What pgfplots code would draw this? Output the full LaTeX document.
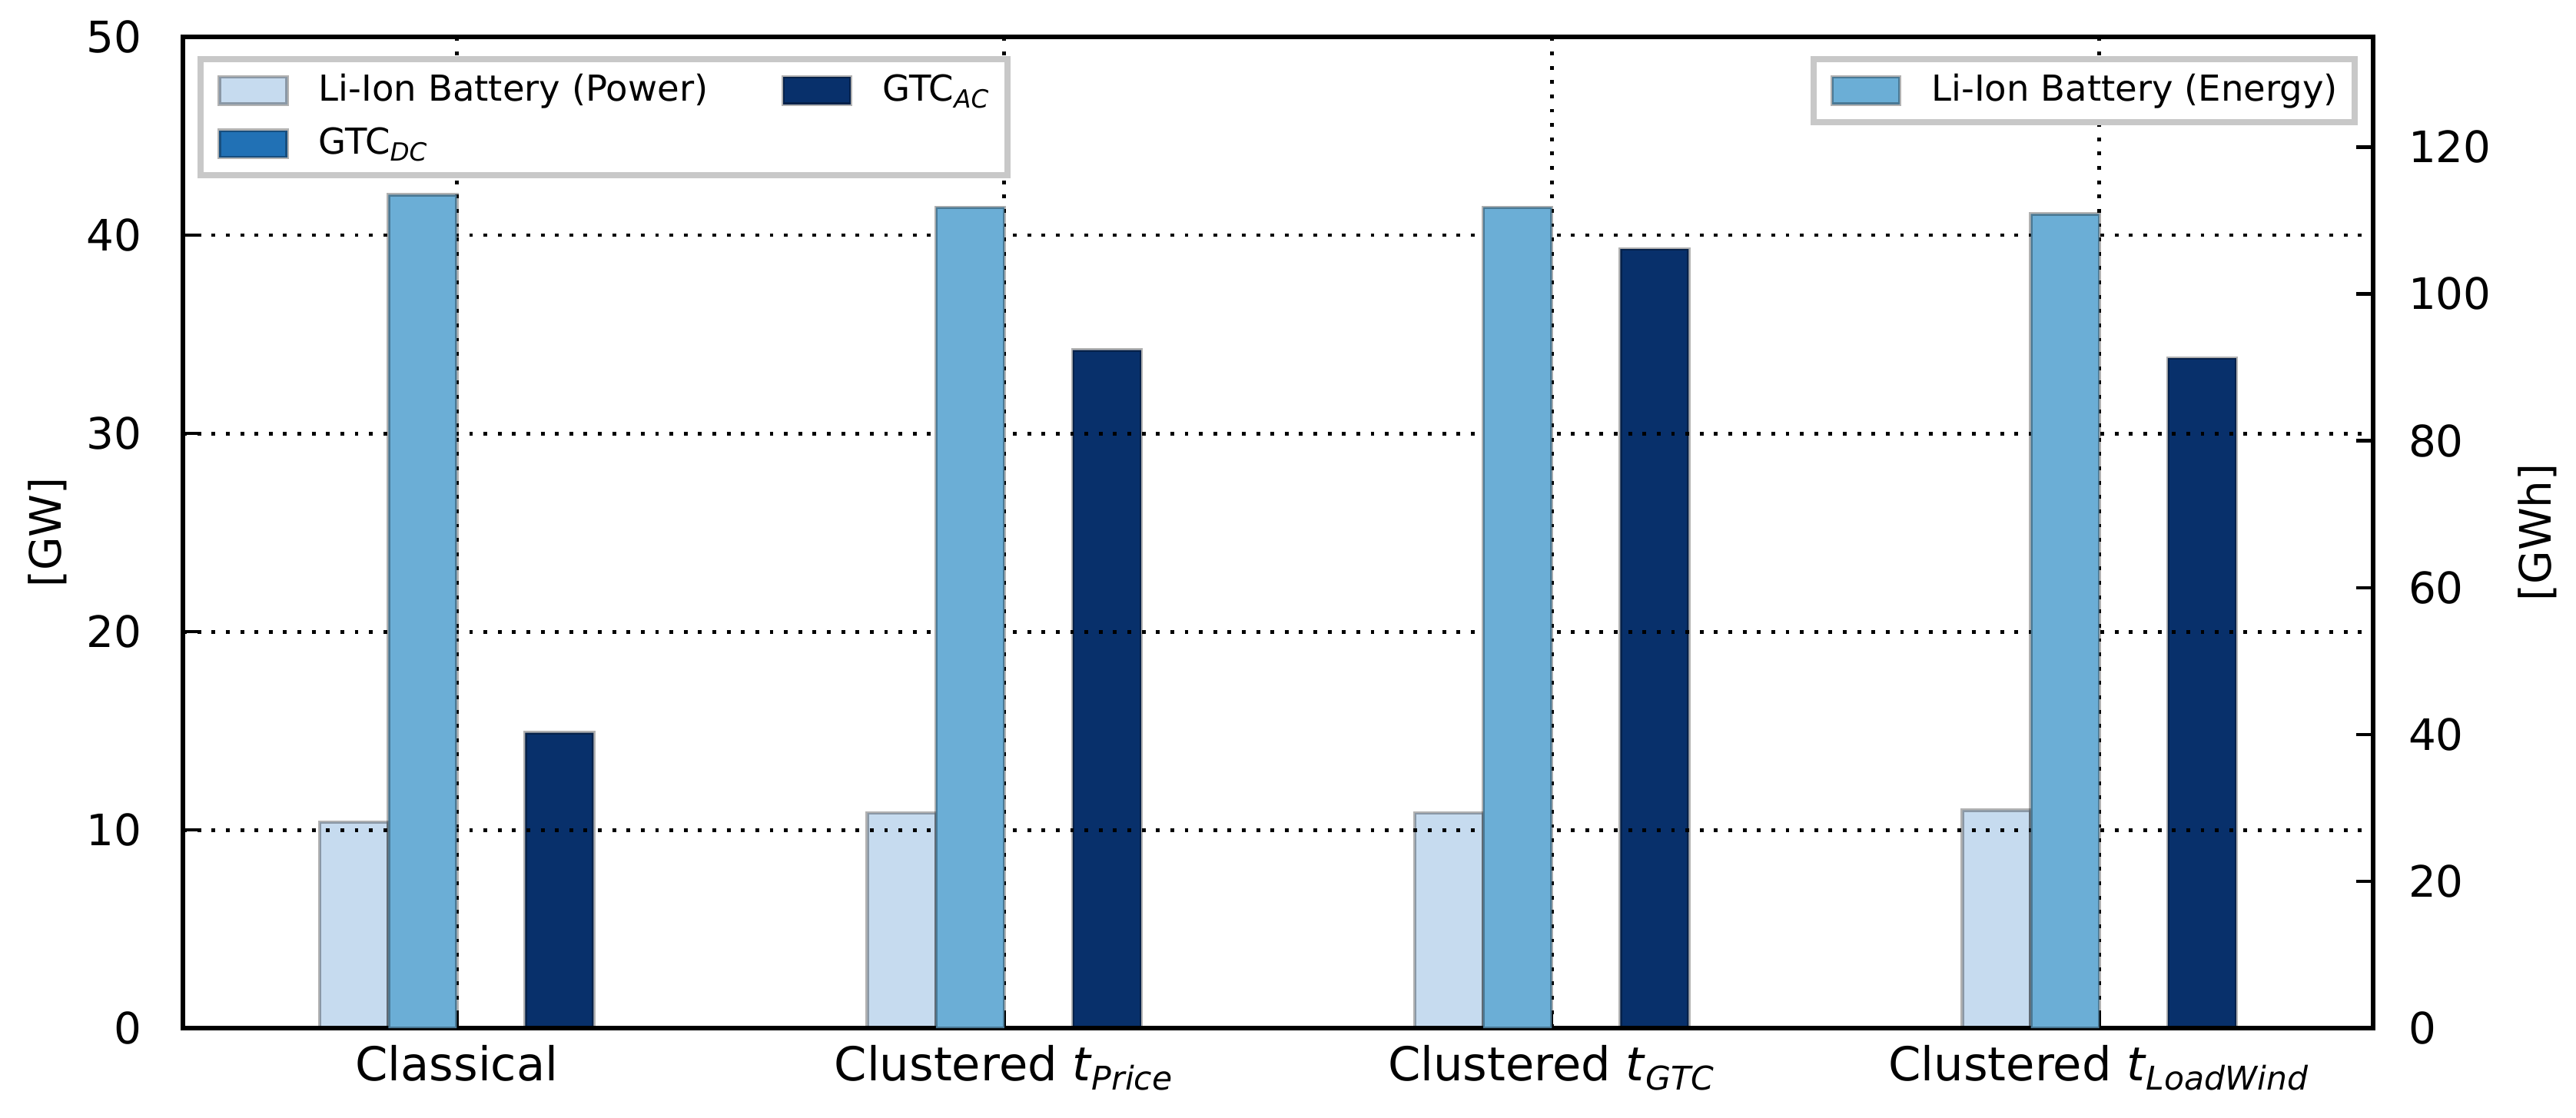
\documentclass[border=0pt]{standalone}
\usepackage{fontspec}
\setmainfont{DejaVu Sans}
\usepackage{pgfplots}
\pgfplotsset{compat=1.18}

\definecolor{cPow}{HTML}{C6DBEF}
\definecolor{cEn}{HTML}{6BAED6}
\definecolor{cDC}{HTML}{2171B5}
\definecolor{cAC}{HTML}{08306B}
\definecolor{legframe}{HTML}{C8C8C8}

\newcommand{\tickfont}{\fontsize{11.5}{13}\selectfont}
\newcommand{\xlabfont}{\fontsize{12.4}{14}\selectfont}
\newcommand{\legfont}{\fontsize{9.5}{11}\selectfont}

\pgfplotsset{
  barstyle/.style={ybar, bar width=0.125, draw=black, draw opacity=0.3, line width=0.9pt},
  common/.style={
    at={(0pt,0pt)}, anchor=south west, scale only axis,
    width=581.6pt, height=263.3pt,
    xmin=-0.5, xmax=3.5,
    tick align=inside, major tick length=4.4pt,
    tick style={black, line width=0.9pt},
    axis line style={line width=1.1pt},
    ticklabel style={font=\tickfont},
    label style={font=\tickfont},
    /pgf/number format/assume math mode=true,
    legend image code/.code={\draw[##1] (0pt,-3.6pt) rectangle (18pt,3.6pt);},
    legend style={draw=legframe, line width=1.6pt, fill=white, font=\legfont,
      inner xsep=4.5pt, inner ysep=4pt, row sep=5.5pt,
      nodes={inner sep=0pt}, cells={anchor=west},
      /tikz/every odd column/.append style={column sep=8pt},
      /tikz/every even column/.append style={column sep=19.5pt}},
  },
}

\begin{document}
\begin{tikzpicture}
\useasboundingbox (-48.6pt,-23.7pt) rectangle (635.5pt,273.1pt);

% left axis: power [GW]
\begin{axis}[common,
  ymin=0, ymax=50,
  xtick={0,1,2,3},
  xticklabels={Classical,
    Clustered \textit{t}\textsubscript{\textit{Price}},
    Clustered \textit{t}\textsubscript{\textit{GTC}},
    Clustered \textit{t}\textsubscript{\textit{LoadWind}}},
  ytick={0,10,20,30,40,50},
  xtick pos=bottom, ytick pos=left,
  xticklabel style={font=\xlabfont, anchor=north, inner sep=0pt, yshift=-4.4pt},
  yticklabel style={anchor=east, inner sep=0pt, xshift=-10.8pt},
  xmajorgrids, ymajorgrids,
  grid style={black, line width=1pt, dash pattern=on 1pt off 2.8pt},
  axis on top,
  ylabel={[GW]},
  ylabel style={at={(axis description cs:-0.0618,0.5)}, anchor=center},
  legend columns=2,
  legend style={at={(axis description cs:0.0067,0.9806)}, anchor=north west},
]
\addplot[barstyle, fill=cPow, bar shift=-0.1875] coordinates {(0,10.4) (1,10.85) (2,10.85) (3,11.0)};
\addlegendentry{Li-Ion Battery (Power)}
\addplot[barstyle, fill=cAC, bar shift=0.1875] coordinates {(0,14.9) (1,34.2) (2,39.3) (3,33.8)};
\addlegendentry{GTC\textsubscript{\textit{AC}}}
\addplot[barstyle, fill=cDC, bar shift=0.0625] coordinates {(0,0) (1,0) (2,0) (3,0)};
\addlegendentry{GTC\textsubscript{\textit{DC}}}
\end{axis}

% right axis: energy [GWh]
\begin{axis}[common,
  ymin=0, ymax=135,
  axis x line=none, axis y line*=right,
  ytick={0,20,40,60,80,100,120},
  yticklabel style={anchor=west, inner sep=0pt, xshift=9.2pt},
  ylabel={[GWh]},
  ylabel style={at={(axis description cs:1.0751,0.5)}, anchor=center},
  legend style={at={(axis description cs:0.993,0.9806)}, anchor=north east},
]
\addplot[barstyle, fill=cEn, bar shift=-0.0625] coordinates {(0,113.5) (1,111.8) (2,111.8) (3,110.9)};
\addlegendentry{Li-Ion Battery (Energy)}
\end{axis}
\end{tikzpicture}
\end{document}
